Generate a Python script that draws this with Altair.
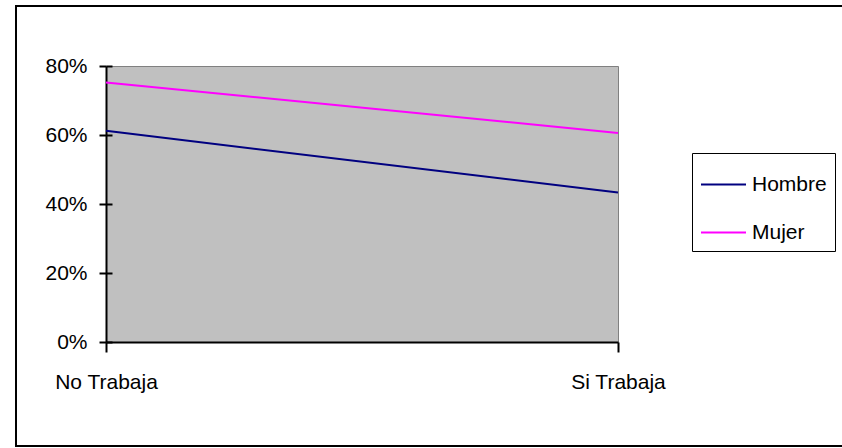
import altair as alt
import pandas as pd

# Share of each group by work status
categories = ["No Trabaja", "Si Trabaja"]
series_names = ["Hombre", "Mujer"]
hombre = [0.612, 0.433]
mujer = [0.752, 0.606]
y_ticks = [0.0, 0.2, 0.4, 0.6, 0.8]
line_colors = ["#000080", "#FF00FF"]

rows = []
for name, vals in zip(series_names, [hombre, mujer]):
    for cat, v in zip(categories, vals):
        rows.append({"situacion": cat, "sexo": name, "valor": v})
df = pd.DataFrame(rows)

FONT = "Liberation Sans"
FS = 21

y_scale = alt.Scale(domain=[0, 0.8], nice=False, zero=True)

lines = alt.Chart(df).mark_line(strokeWidth=2).encode(
    x=alt.X(
        "situacion:N",
        sort=categories,
        scale=alt.Scale(type="point", padding=0),
        axis=alt.Axis(
            title=None, labelAngle=0, tickSize=10, tickWidth=2,
            domainColor="black", domainWidth=2, tickColor="black",
            labelPadding=19, labelFont=FONT, labelFontSize=FS,
            labelColor="black", grid=False,
        ),
    ),
    y=alt.Y(
        "valor:Q",
        scale=y_scale,
        axis=alt.Axis(
            title=None, format=".0%", values=y_ticks, tickSize=7,
            tickWidth=2, tickColor="black", domainColor="black",
            domainWidth=2, labelPadding=12, labelFont=FONT,
            labelFontSize=FS, labelColor="black", grid=False,
        ),
    ),
    color=alt.Color(
        "sexo:N",
        scale=alt.Scale(domain=series_names, range=line_colors),
        legend=alt.Legend(
            title=None, orient="none", legendX=586, legendY=87,
            symbolType="stroke", symbolSize=2025, symbolStrokeWidth=2,
            labelFont=FONT, labelFontSize=FS, labelColor="black",
            strokeColor="black", padding=8, rowPadding=14,
            labelOffset=5, fillColor="white",
        ),
    ),
)

# Inner half of the y tick marks, so each tick crosses the axis line
inner_ticks = alt.Chart(df).mark_point(opacity=0).encode(
    y=alt.Y(
        "valor:Q",
        scale=y_scale,
        axis=alt.Axis(
            orient="left", offset=-6, title=None, values=y_ticks,
            tickSize=6, tickWidth=2, tickColor="black", domain=False,
            labels=False, grid=False,
        ),
    ),
)

# Outer chart frame
frame = alt.Chart(alt.Data(values=[{}])).mark_rect(
    fill=None, stroke="black", strokeWidth=2
).encode(
    x=alt.value(-90), x2=alt.value(900),
    y=alt.value(-60), y2=alt.value(380),
)

chart = (
    alt.layer(frame, lines, inner_ticks)
    .resolve_scale(y="shared")
    .resolve_axis(y="independent")
    .properties(
        width=512, height=276,
        autosize=alt.AutoSizeParams(type="none"),
        padding={"left": 106, "top": 66, "right": 224, "bottom": 106},
        background="white",
    )
    .configure_view(fill="#C0C0C0", stroke="#808080", strokeWidth=1)
)

chart.save("out.html", embed_options={"renderer": "svg", "actions": False})
